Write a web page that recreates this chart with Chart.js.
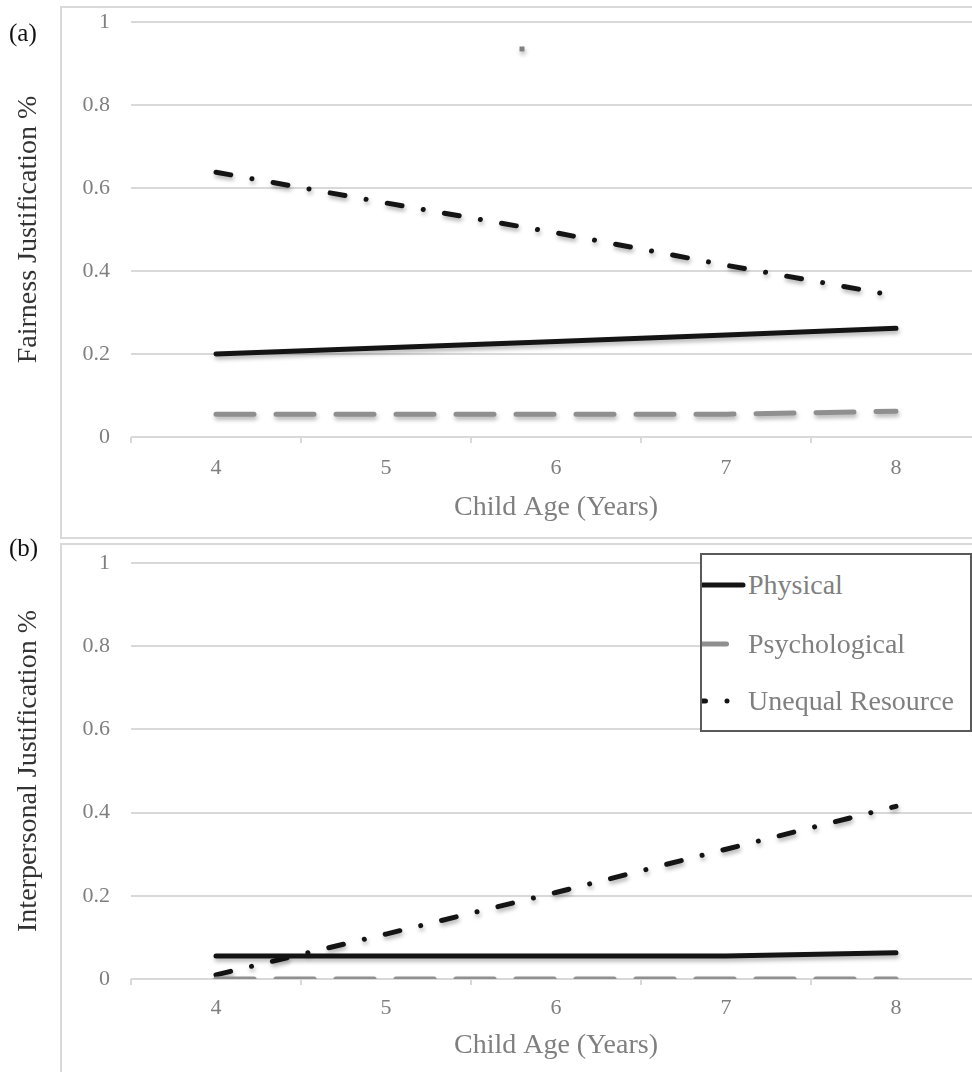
<!DOCTYPE html>
<html>
<head>
<meta charset="utf-8">
<script src="https://cdn.jsdelivr.net/npm/chart.js@4.4.1/dist/chart.umd.min.js"></script>
<style>
  html, body { margin: 0; padding: 0; background: #fff; overflow: hidden; }
  #page { position: relative; width: 972px; height: 1072px; overflow: hidden; font-family: "Liberation Serif", "Times New Roman", serif; }
  .frame { position: absolute; left: 60px; width: 1000px; border: 2px solid #d9d9d9; box-sizing: border-box; }
  .panel-label { position: absolute; left: 9px; font-size: 25px; line-height: 25px; color: #111; }
  #page > canvas { position: absolute; left: 0; }
  #legend { position: absolute; left: 700px; top: 553px; width: 272px; height: 179px; border: 2px solid #595959; box-sizing: border-box; background: #fff; overflow: hidden; z-index: 2; }
  .item { position: absolute; left: 0; height: 34px; display: flex; align-items: center; font-size: 28px; color: #7f7f7f; white-space: nowrap; }
  .item canvas { display: block; margin-right: 2px; }
</style>
</head>
<body>
<div id="page">
  <div class="frame" style="top:6px;height:533px"></div>
  <div class="frame" style="top:543px;height:600px"></div>
  <canvas id="chartA" width="990" height="540" style="top:0"></canvas>
  <canvas id="chartB" width="990" height="532" style="top:540px"></canvas>
  <div class="panel-label" style="top:20px">(a)</div>
  <div class="panel-label" style="top:535px">(b)</div>
  <div id="legend"></div>
</div>
<script>
// data
const ages = ['4', '5', '6', '7', '8'];
const seriesNames = ['Physical', 'Psychological', 'Unequal Resource'];
const yTicks = [0, 0.2, 0.4, 0.6, 0.8, 1];

// (a) fairness justifications
const fairPhysical = [0.2, 0.215, 0.23, 0.246, 0.262];
const fairPsychological = [0.055, 0.055, 0.055, 0.055, 0.062];
const fairUnequal = [0.638, 0.564, 0.492, 0.414, 0.34];

// (b) interpersonal justifications
const interPhysical = [0.055, 0.055, 0.055, 0.055, 0.063];
const interPsychological = [0, 0, 0, 0, 0];
const interUnequal = [0.01, 0.108, 0.208, 0.312, 0.415];

// the small grey square that sits in each panel
const strayX = [5.8];
const strayYA = [0.935];
const strayYB = [1.01];

const FONT = '"Liberation Serif", "Times New Roman", serif';
const styles = [
    { color: '#141414', dash: [], sampleOffset: 0 },
    { color: '#8f8f8f', dash: [38, 22], sampleOffset: 9.5 },
    { color: '#141414', dash: [15, 21.5, 0.01, 21.5], sampleOffset: 7.5 }
];

// soft drop shadow like the Excel lines
const shadow = {
    id: 'shadow',
    beforeDatasetsDraw(chart) {
        const c = chart.ctx;
        c.save();
        c.shadowColor = 'rgba(0,0,0,0.3)';
        c.shadowBlur = 4;
        c.shadowOffsetX = 1;
        c.shadowOffsetY = 3;
    },
    afterDatasetsDraw(chart) { chart.ctx.restore(); }
};

function makeChart(id, yTitle, series, strayY, o) {
    const datasets = series.map((v, i) => ({
        label: seriesNames[i],
        data: v,
        borderColor: styles[i].color,
        borderWidth: 5,
        borderDash: styles[i].dash,
        borderCapStyle: 'round',
        pointRadius: 0,
        tension: 0,
        fill: false
    }));
    datasets.push({
        type: 'scatter',
        label: '',
        data: strayY.map((y, i) => ({ x: strayX[i], y: y })),
        xAxisID: 'x2',
        pointStyle: 'rect',
        pointRadius: 3.5,
        backgroundColor: '#7f7f7f',
        borderWidth: 0,
        clip: false
    });

    return new Chart(document.getElementById(id), {
        type: 'line',
        data: { labels: ages, datasets: datasets },
        options: {
            responsive: false,
            animation: false,
            events: [],
            layout: { padding: { top: o.top, right: 9, left: 0, bottom: 0 } },
            plugins: { legend: { display: false }, tooltip: { enabled: false } },
            scales: {
                x: {
                    type: 'category',
                    offset: true,
                    grid: { offset: true, drawOnChartArea: false, drawTicks: true, tickLength: 6, color: '#d9d9d9', lineWidth: 2 },
                    border: { display: false },
                    ticks: { color: '#7f7f7f', font: { family: FONT, size: 22 }, padding: o.tickPad },
                    title: { display: true, text: 'Child Age (Years)', color: '#7f7f7f', font: { family: FONT, size: 28 }, padding: { top: 0, bottom: o.titlePad } },
                    afterFit: s => { s.height = o.xh; }
                },
                x2: { type: 'linear', min: 3.5, max: 8.5, display: false },
                y: {
                    min: 0,
                    max: 1,
                    afterBuildTicks: s => { s.ticks = yTicks.map(v => ({ value: v })); },
                    // invisible tick marks give the gap between labels and grid
                    grid: { color: '#d9d9d9', lineWidth: 2, drawTicks: true, tickLength: 21, tickColor: 'rgba(0,0,0,0)' },
                    border: { display: false },
                    ticks: { color: '#7f7f7f', font: { family: FONT, size: 22 }, padding: 0, callback: v => String(+v.toFixed(1)) },
                    title: { display: true, text: yTitle, color: '#333333', font: { family: FONT, size: 28 }, padding: { top: 12, bottom: 0 } },
                    afterFit: s => { s.width = 131; }
                }
            }
        },
        plugins: [shadow]
    });
}

const chartA = makeChart('chartA', 'Fairness Justification %',
    [fairPhysical, fairPsychological, fairUnequal], strayYA,
    { top: 22, tickPad: 12, titlePad: 16, xh: 103 });
const chartB = makeChart('chartB', 'Interpersonal Justification %',
    [interPhysical, interPsychological, interUnequal], strayYB,
    { top: 23, tickPad: 10, titlePad: 10, xh: 93 });

// legend box inside panel (b)
const legend = document.getElementById('legend');
const rowTops = [13, 72, 129];
chartB.data.datasets.slice(0, 3).forEach((ds, i) => {
    const row = document.createElement('div');
    row.className = 'item';
    row.style.top = rowTops[i] + 'px';
    const sample = document.createElement('canvas');
    sample.width = 44;
    sample.height = 12;
    const c = sample.getContext('2d');
    c.strokeStyle = ds.borderColor;
    c.lineWidth = 5;
    c.lineCap = 'round';
    c.setLineDash(ds.borderDash);
    c.lineDashOffset = styles[i].sampleOffset;
    c.beginPath();
    c.moveTo(-4, 6);
    c.lineTo(41, 6);
    c.stroke();
    row.appendChild(sample);
    const label = document.createElement('span');
    label.textContent = ds.label;
    row.appendChild(label);
    legend.appendChild(row);
});
</script>
</body>
</html>
